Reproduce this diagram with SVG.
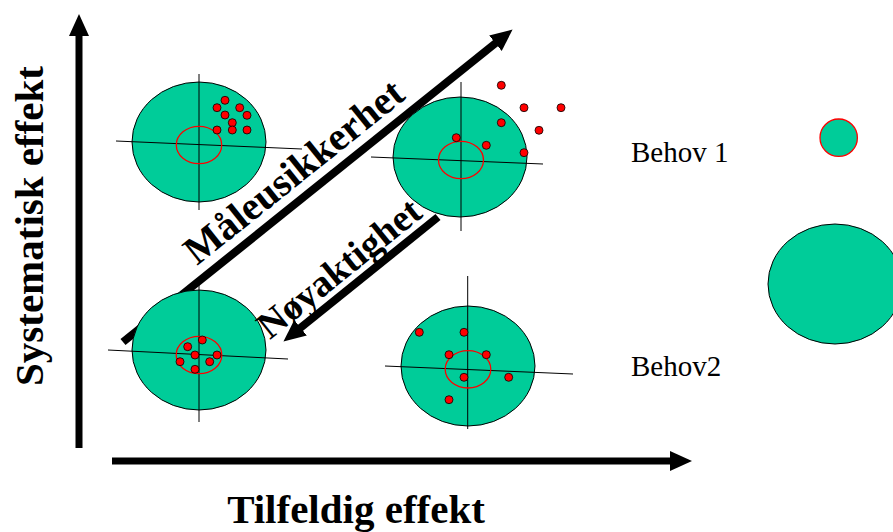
<svg xmlns="http://www.w3.org/2000/svg" width="893" height="532" viewBox="0 0 893 532">
<style>
.tgt{fill:#00CC99;stroke:#000;stroke-width:1}
.ring{fill:none;stroke:#FF0000;stroke-width:1.3}
.cross{stroke:#000;stroke-width:1;fill:none}
.dot{fill:#FF0000;stroke:#000;stroke-width:0.8}
text{font-family:'Times New Roman',Times,'Liberation Serif',Tinos,'Noto Serif','DejaVu Serif',serif;fill:#000}
.big{font-weight:bold}
.lbl{font-size:29px}
.arr{stroke:#000;fill:none}
</style>
<defs>
<marker id="ah" markerUnits="userSpaceOnUse" markerWidth="24" markerHeight="22" refX="2" refY="11" orient="auto" viewBox="0 0 24 22">
<path d="M0,1 L22,11 L0,21 Z" fill="#000"/>
</marker>
</defs>
<rect width="893" height="532" fill="#fff"/>
<g id="connectors">
<line class="arr" x1="79" y1="448" x2="79" y2="34" stroke-width="7" marker-end="url(#ah)"/>
<line class="arr" x1="112" y1="461" x2="672" y2="461" stroke-width="7" marker-end="url(#ah)"/>
<line class="arr" x1="123" y1="342" x2="497" y2="42" stroke-width="8" marker-end="url(#ah)"/>
<line class="arr" x1="438" y1="217" x2="299" y2="329" stroke-width="8" marker-end="url(#ah)"/>
</g>
<g id="target-top-left">
<ellipse class="tgt" cx="199" cy="142" rx="67" ry="60"/>
<line class="cross" x1="199" y1="74" x2="199" y2="210"/>
<line class="cross" x1="116" y1="141" x2="302" y2="149"/>
<ellipse class="ring" cx="199" cy="145" rx="22.7" ry="18.7"/>
<circle class="dot" cx="225" cy="100.3" r="4"/>
<circle class="dot" cx="217" cy="107.7" r="4"/>
<circle class="dot" cx="239.7" cy="107.7" r="4"/>
<circle class="dot" cx="247" cy="115.3" r="4"/>
<circle class="dot" cx="225" cy="115" r="4"/>
<circle class="dot" cx="232.3" cy="122.7" r="4"/>
<circle class="dot" cx="217" cy="130" r="4"/>
<circle class="dot" cx="232.3" cy="130" r="4"/>
<circle class="dot" cx="247" cy="130" r="4"/>
</g>
<g id="target-top-right">
<ellipse class="tgt" cx="460" cy="157" rx="67" ry="60"/>
<line class="cross" x1="461" y1="82" x2="461" y2="231"/>
<line class="cross" x1="371" y1="157" x2="543" y2="164"/>
<ellipse class="ring" cx="461" cy="160" rx="22.5" ry="18.7"/>
<circle class="dot" cx="501.3" cy="85.3" r="4"/>
<circle class="dot" cx="524" cy="107.7" r="4"/>
<circle class="dot" cx="561" cy="107.7" r="4"/>
<circle class="dot" cx="501.3" cy="122.7" r="4"/>
<circle class="dot" cx="539" cy="130.3" r="4"/>
<circle class="dot" cx="456.3" cy="137.7" r="4"/>
<circle class="dot" cx="486.3" cy="145.3" r="4"/>
<circle class="dot" cx="524" cy="152.7" r="4"/>
</g>
<g id="target-bottom-left">
<ellipse class="tgt" cx="199" cy="350" rx="67" ry="60"/>
<line class="cross" x1="199" y1="279" x2="199" y2="422"/>
<line class="cross" x1="108" y1="350" x2="288" y2="359"/>
<ellipse class="ring" cx="199" cy="355" rx="22.8" ry="18.7"/>
<circle class="dot" cx="202.3" cy="340" r="4"/>
<circle class="dot" cx="187.7" cy="346.7" r="4"/>
<circle class="dot" cx="195" cy="355" r="4"/>
<circle class="dot" cx="217" cy="355" r="4"/>
<circle class="dot" cx="180" cy="361.7" r="4"/>
<circle class="dot" cx="209.7" cy="361.7" r="4"/>
<circle class="dot" cx="195" cy="369.3" r="4"/>
</g>
<g id="target-bottom-right">
<ellipse class="tgt" cx="468" cy="366" rx="67" ry="60"/>
<line class="cross" x1="467.7" y1="276" x2="467.7" y2="429"/>
<line class="cross" x1="385" y1="366" x2="573" y2="374"/>
<ellipse class="ring" cx="468" cy="369.3" rx="22.8" ry="18.7"/>
<circle class="dot" cx="419.3" cy="332.3" r="4"/>
<circle class="dot" cx="464" cy="332.3" r="4"/>
<circle class="dot" cx="449" cy="354.7" r="4"/>
<circle class="dot" cx="486.3" cy="354.7" r="4"/>
<circle class="dot" cx="464" cy="377.3" r="4"/>
<circle class="dot" cx="508.7" cy="377.3" r="4"/>
<circle class="dot" cx="449" cy="399.7" r="4"/>
</g>
<g id="legend-behov1">
<circle cx="838.7" cy="137.7" r="18.7" fill="#00CC99" stroke="#FF0000" stroke-width="1.3"/>
<text class="lbl" x="631" y="162">Behov 1</text>
</g>
<g id="legend-behov2">
<ellipse class="tgt" cx="835" cy="284" rx="67" ry="60"/>
<text class="lbl" x="631" y="376">Behov2</text>
</g>
<g id="labels">
<text class="big" font-size="41" text-anchor="middle" transform="translate(43,226) rotate(-90)">Systematisk effekt</text>
<text class="big" font-size="41" text-anchor="middle" x="356" y="523">Tilfeldig effekt</text>
<text class="big" font-size="40" text-anchor="middle" transform="translate(302,182) rotate(-38.7)">Måleusikkerhet</text>
<text class="big" font-size="38" text-anchor="middle" transform="translate(347,278) rotate(-38.9)">Nøyaktighet</text>
</g>
</svg>
